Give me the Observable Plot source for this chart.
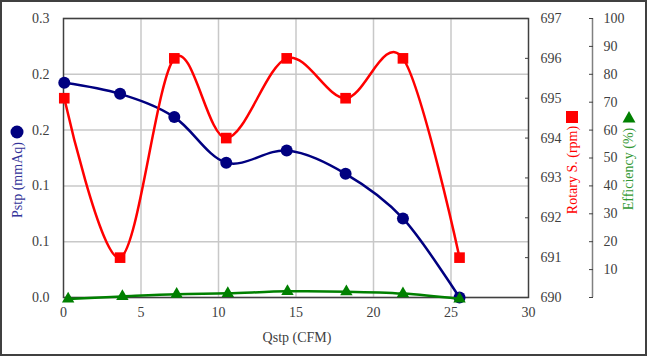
<!DOCTYPE html>
<html><head><meta charset="utf-8">
<script src="https://cdn.jsdelivr.net/npm/d3@7"></script>
<script src="https://cdn.jsdelivr.net/npm/@observablehq/plot@0.6"></script>
<style>
html,body{margin:0;padding:0;background:#fff;}
#wrap{position:relative;width:647px;height:356px;font-family:"Liberation Serif","Times New Roman",serif;overflow:hidden;}
#wrap svg, #wrap svg text{font-family:"Liberation Serif","Times New Roman",serif !important;}
#border{position:absolute;left:0;top:0;width:643px;height:352px;border:2px solid #404040;}
.layer{position:absolute;left:0;top:0;}
.title{position:absolute;font-size:14px;white-space:nowrap;transform:translate(-50%,-50%);}
.rot{transform:translate(-50%,-50%) rotate(-90deg);}
.mk{position:absolute;}
</style>
</head><body>
<div id="wrap">
  <div id="border"></div>
</div>
<script>
// ---- data ----
const qstp    = [0.05, 3.65, 7.15, 10.5, 14.4, 18.2, 21.9, 25.55];
const qstpEff = [0.3, 3.8, 7.3, 10.6, 14.45, 18.25, 21.9, 25.55];
const pstp    = [0.231, 0.219, 0.194, 0.145, 0.158, 0.133, 0.085, 0.0];
const rpm     = [695, 691, 696, 694, 696, 695, 696, 691];
const eff     = [-0.5, 0.4, 1.2, 1.5, 2.2, 2.1, 1.4, -0.5];
const xTicks   = [0, 5, 10, 15, 20, 25, 30];
const xGrid    = [5, 10, 15, 20, 25];
const pTicks   = [0, 0.06, 0.12, 0.18, 0.24, 0.3];
const rpmTicks = [690, 691, 692, 693, 694, 695, 696, 697];
const effTicks = [0, 10, 20, 30, 40, 50, 60, 70, 80, 90, 100];

const pData = qstp.map((q, i) => ({q, v: pstp[i]}));
const rData = qstp.map((q, i) => ({q, v: rpm[i]}));
const eData = qstpEff.map((q, i) => ({q, v: eff[i]}));

const W = 647, H = 356;
const base = {
  width: W, height: H,
  marginLeft: 63, marginRight: 119, marginTop: 18, marginBottom: 59,
  style: {background: "transparent", fontFamily: "Liberation Serif, serif", fontSize: "14px", color: "#404040", overflow: "visible"}
};

const A = Plot.plot({
  ...base,
  x: {domain: [0, 30]},
  y: {domain: [0, 0.3]},
  marks: [
    Plot.gridY(pTicks, {stroke: "#c8c8c8", strokeOpacity: 1, strokeWidth: 1.5}),
    Plot.gridX(xGrid, {stroke: "#c8c8c8", strokeOpacity: 1, strokeWidth: 1.5}),
    Plot.frame({stroke: "#404040", strokeWidth: 1.5}),
    Plot.axisY(pTicks, {tickFormat: d3.format(".1f"), tickSize: 0, tickPadding: 14, label: null}),
    Plot.axisX(xTicks, {tickSize: 0, tickPadding: 10, label: null}),
    Plot.line(pData, {x: "q", y: "v", stroke: "#000080", strokeWidth: 2.5, curve: "cardinal"}),
    Plot.dot(pData, {x: "q", y: "v", fill: "#000080", r: 6})
  ]
});

const B = Plot.plot({
  ...base,
  x: {domain: [0, 30], axis: null},
  y: {domain: [690, 697]},
  marks: [
    Plot.axisY(rpmTicks, {anchor: "right", tickSize: -4, tickPadding: 16, label: null, stroke: "#404040"}),
    Plot.line(rData, {x: "q", y: "v", stroke: "#ff0000", strokeWidth: 2.5, curve: "cardinal"}),
    Plot.dot(rData, {x: "q", y: "v", fill: "#ff0000", symbol: "square", r: 6})
  ]
});

const C = Plot.plot({
  ...base,
  x: {domain: [0, 30], axis: null},
  y: {domain: [0, 100]},
  marks: [
    Plot.ruleX([30], {y1: 0, y2: 100, dx: 64, stroke: "#808080", strokeWidth: 1.5}),
    Plot.axisY(effTicks, {anchor: "right", dx: 64, tickSize: -4, tickPadding: 15, label: null,
      tickFormat: d => d === 0 ? "" : d}),
    Plot.line(eData, {x: "q", y: "v", stroke: "#008000", strokeWidth: 2.5, curve: "cardinal"}),
    Plot.dot(eData, {x: "q", y: "v", fill: "#008000", symbol: "triangle", r: 4.6})
  ]
});

const wrap = document.getElementById("wrap");
for (const s of [A, B, C]) { s.classList.add("layer"); wrap.appendChild(s); }

function addTitle(text, x, y, color, rot) {
  const d = document.createElement("div");
  d.className = "title" + (rot ? " rot" : "");
  d.style.left = x + "px"; d.style.top = y + "px"; d.style.color = color;
  d.textContent = text;
  wrap.appendChild(d);
}
addTitle("Qstp (CFM)", 297, 338, "#404040", false);
addTitle("Pstp (mmAq)", 18, 180, "#333399", true);
addTitle("Rotary S. (rpm)", 573, 170, "#ff0000", true);
addTitle("Efficiency (%)", 629, 169, "#339933", true);

function addMarker(svgInner, x, y) {
  const ns = "http://www.w3.org/2000/svg";
  const s = document.createElementNS(ns, "svg");
  s.setAttribute("width", 16); s.setAttribute("height", 16);
  s.setAttribute("class", "mk");
  s.style.left = (x - 8) + "px"; s.style.top = (y - 8) + "px";
  s.innerHTML = svgInner;
  wrap.appendChild(s);
}
addMarker('<circle cx="8" cy="8" r="6.5" fill="#000080"/>', 17, 132);
addMarker('<rect x="2" y="2" width="12" height="12" fill="#ff0000"/>', 572, 117);
addMarker('<path d="M8,2 L14.5,13.5 L1.5,13.5Z" fill="#008000"/>', 629, 117);
</script>
</body></html>
